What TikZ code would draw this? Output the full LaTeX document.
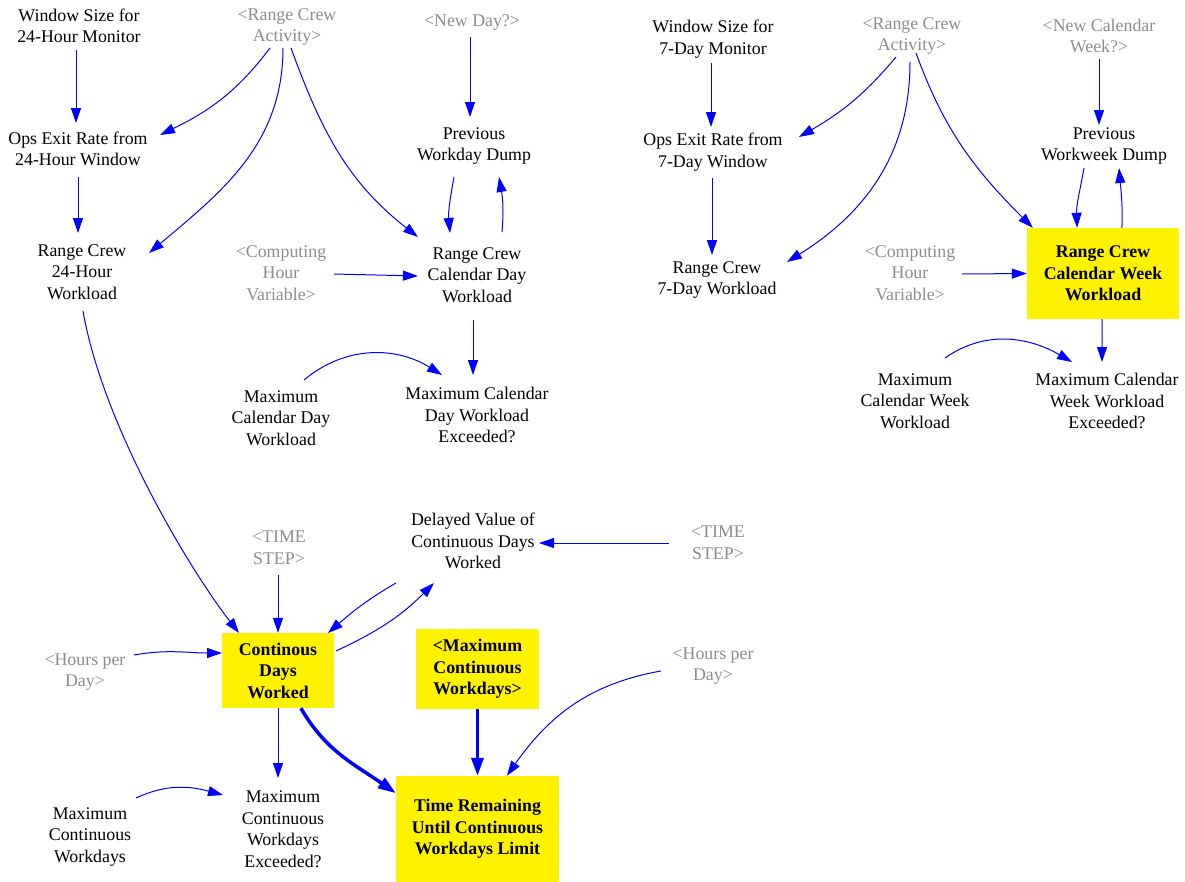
\documentclass[tikz,border=0pt]{standalone}
\usepackage{fontspec}
\setmainfont{Liberation Serif}
\usetikzlibrary{arrows.meta}
\definecolor{ghost}{RGB}{140,140,140}
\newcommand{\fs}{\fontsize{17.9}{21.6}\selectfont}

\begin{document}
\begin{tikzpicture}[x=1bp, y=1bp,
    var/.style={align=center, font=\fs, inner sep=1bp},
    shadow/.style={var, text=ghost},
    lvl/.style={var, font=\fs\bfseries, fill=yellow},
    lnk/.style={draw=blue, line width=1bp, -{Triangle[length=15bp,width=10bp]}},
    fat/.style={draw=blue, line width=3.5bp, -{Triangle[length=18bp,width=12bp]}}]
    \useasboundingbox (0,0) rectangle (1185,-882);

    % 24-hour monitor
    \node[var] (winA) at (79,-26) {Window Size for\\24-Hour Monitor};
    \node[shadow] (rcaA) at (287,-27) {<Range Crew\\Activity>};
    \node[shadow] (ndA) at (472,-23) {<New Day?>};
    \node[var] (opsA) at (78,-149) {Ops Exit Rate from\\24-Hour Window};
    \node[var] (pwdA) at (474,-146) {Previous\\Workday Dump};
    \node[var] (rcwA) at (82,-272) {Range Crew\\24-Hour\\Workload};
    \node[shadow] (chA) at (281,-273) {<Computing\\Hour\\Variable>};
    \node[var] (rcdA) at (477,-275) {Range Crew\\Calendar Day\\Workload};
    \node[var] (mcdA) at (281,-418) {Maximum\\Calendar Day\\Workload};
    \node[var] (mceA) at (477,-415) {Maximum Calendar\\Day Workload\\Exceeded?};

    % 7-day monitor
    \node[var] (winB) at (713,-39) {Window Size for\\7-Day Monitor};
    \node[shadow] (rcaB) at (912,-36) {<Range Crew\\Activity>};
    \node[shadow] (ncwB) at (1099,-36) {<New Calendar\\Week?>};
    \node[var] (opsB) at (713,-152) {Ops Exit Rate from\\7-Day Window};
    \node[var] (pwwB) at (1104,-146) {Previous\\Workweek Dump};
    \node[var] (rc7B) at (717,-280) {Range Crew\\7-Day Workload};
    \node[shadow] (chB) at (910,-273) {<Computing\\Hour\\Variable>};
    \node[lvl, minimum width=152bp, minimum height=91bp] (rcwkB) at (1103,-273.5) {Range Crew\\Calendar Week\\Workload};
    \node[var] (mcwB) at (915,-401) {Maximum\\Calendar Week\\Workload};
    \node[var] (mceB) at (1107,-401) {Maximum Calendar\\Week Workload\\Exceeded?};

    % continuous days
    \node[var] (dvc) at (473,-541) {Delayed Value of\\Continuous Days\\Worked};
    \node[shadow] (tsA) at (279,-548) {<TIME\\STEP>};
    \node[shadow] (tsB) at (718,-543) {<TIME\\STEP>};
    \node[lvl, minimum width=112bp, minimum height=75bp] (cdw) at (278,-670.5) {Continous\\Days\\Worked};
    \node[shadow] (hpdA) at (85,-672) {<Hours per\\Day>};
    \node[lvl, minimum width=123bp, minimum height=80bp] (mcwX) at (477.5,-669) {<Maximum\\Continuous\\Workdays>};
    \node[shadow] (hpdB) at (713,-666) {<Hours per\\Day>};
    \node[var] (mcwd) at (90,-837) {Maximum\\Continuous\\Workdays};
    \node[var] (mcwe) at (283,-829) {Maximum\\Continuous\\Workdays\\Exceeded?};
    \node[lvl, minimum width=163bp, minimum height=106bp] (trl) at (477.5,-829) {Time Remaining\\Until Continuous\\Workdays Limit};

    % links, 24-hour monitor
    \draw[lnk] ([shift={(-3,-24)}]winA.center) -- ([shift={(-2,26)}]opsA.center);
    \draw[lnk] ([shift={(0,-28)}]opsA.center) -- ([shift={(-4,39)}]rcwA.center);
    \draw[lnk] ([shift={(-17,-21)}]rcaA.center) to[out=-127, in=26] ([shift={(82,14)}]opsA.center);
    \draw[lnk] ([shift={(-4,-21)}]rcaA.center) to[out=-90, in=40] ([shift={(67,19)}]rcwA.center);
    \draw[lnk] ([shift={(4,-21)}]rcaA.center) to[out=-70, in=142] ([shift={(-59,38)}]rcdA.center);
    \draw[lnk] ([shift={(-2,-14)}]ndA.center) -- ([shift={(-4,29)}]pwdA.center);
    \draw[lnk] ([shift={(-20,-31)}]pwdA.center) to[out=-100, in=95] ([shift={(-27,42)}]rcdA.center);
    \draw[lnk] ([shift={(25,43)}]rcdA.center) to[out=85, in=-80] ([shift={(25,-31)}]pwdA.center);
    \draw[lnk] ([shift={(53,-1)}]chA.center) -- ([shift={(-59,-1)}]rcdA.center);
    \draw[lnk] ([shift={(-4,-45)}]rcdA.center) -- ([shift={(-4,40)}]mceA.center);
    \draw[lnk] ([shift={(23,38)}]mcdA.center) to[out=40, in=148] ([shift={(-35,40)}]mceA.center);

    % links, 7-day monitor
    \draw[lnk] ([shift={(-2,-24)}]winB.center) -- ([shift={(-2,25)}]opsB.center);
    \draw[lnk] ([shift={(-1,-26)}]opsB.center) -- ([shift={(-5,25)}]rc7B.center);
    \draw[lnk] ([shift={(-16,-21)}]rcaB.center) to[out=-130, in=30] ([shift={(86,15)}]opsB.center);
    \draw[lnk] ([shift={(-2,-26)}]rcaB.center) to[out=-90, in=32] ([shift={(70,18)}]rc7B.center);
    \draw[lnk] ([shift={(4,-17)}]rcaB.center) to[out=-70, in=135] ([xshift=6]rcwkB.north west);
    \draw[lnk] ([shift={(0,-23)}]ncwB.center) -- ([shift={(-5,21)}]pwwB.center);
    \draw[lnk] ([shift={(-20,-22)}]pwwB.center) to[out=-100, in=92] ([xshift=-26]rcwkB.north);
    \draw[lnk] ([xshift=19]rcwkB.north) to[out=88, in=-85] ([shift={(15,-22)}]pwwB.center);
    \draw[lnk] ([shift={(52,-1)}]chB.center) -- (rcwkB.west);
    \draw[lnk] ([xshift=-1]rcwkB.south) -- ([shift={(-5,39)}]mceB.center);
    \draw[lnk] ([shift={(30,43)}]mcwB.center) to[out=35, in=150] ([shift={(-35,39)}]mceB.center);

    % links, continuous days
    \draw[lnk] ([shift={(1,-39)}]rcwA.center) .. controls +(20,-115) and +(-49,63) .. ([shift={(-39,37.5)}]cdw.center);
    \draw[lnk] ([shift={(-1,-27)}]tsA.center) -- (cdw.north);
    \draw[lnk] ([shift={(-49,0)}]tsB.center) -- ([shift={(66,-2)}]dvc.center);
    \draw[lnk] ([shift={(-77,-42)}]dvc.center) to[out=-150, in=41] ([shift={(50,37.5)}]cdw.center);
    \draw[lnk] ([shift={(58,19.5)}]cdw.center) to[out=25, in=-135] ([shift={(-39,-42)}]dvc.center);
    \draw[lnk] ([shift={(49,17)}]hpdA.center) to[out=10, in=180] ([shift={(-56,17.5)}]cdw.center);
    \draw[lnk] ([shift={(-52,-5)}]hpdB.center) to[out=190, in=55] ([xshift=29.5]trl.north);
    \draw[fat] (mcwX.south) -- (trl.north);
    \draw[fat] ([xshift=23]cdw.south) to[out=-60, in=145] ([yshift=36]trl.west);
    \draw[lnk] (cdw.south) -- ([shift={(-5,51)}]mcwe.center);
    \draw[lnk] ([shift={(46,39)}]mcwd.center) to[out=25, in=165] ([shift={(-60,34)}]mcwe.center);

\end{tikzpicture}
\end{document}
